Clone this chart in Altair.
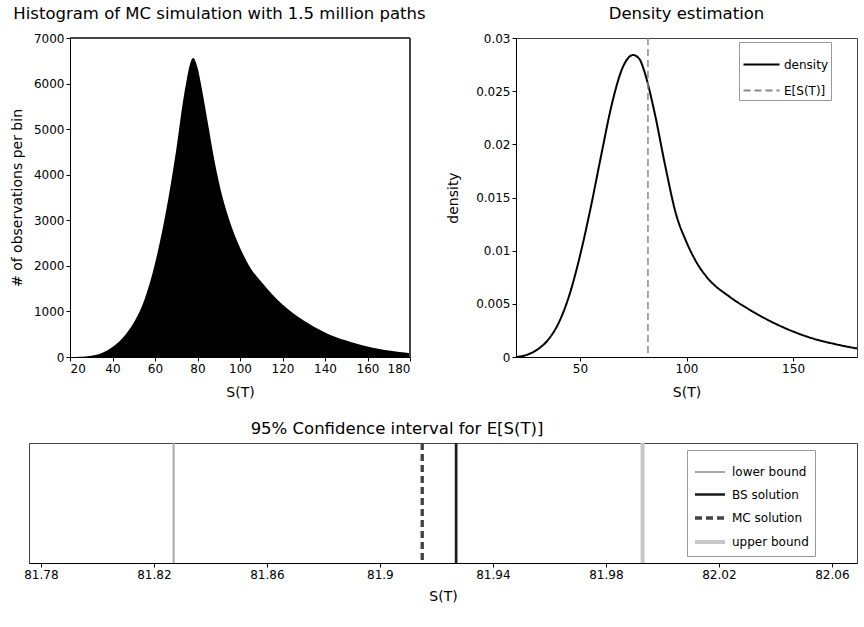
import altair as alt
import pandas as pd

FONT = "DejaVu Sans"

# ---------------- data ----------------
hist_x = [20, 25, 30, 35, 40, 45, 50, 55, 60, 65, 70, 73, 75, 77, 78, 80, 82, 85, 88, 90,
          95, 100, 105, 110, 115, 120, 125, 130, 135, 140, 145, 150, 155, 160, 165, 170, 175, 180]
hist_counts = [0, 5, 30, 90, 220, 430, 750, 1250, 2050, 3150, 4550, 5550, 6100, 6500, 6560, 6350,
               5900, 5100, 4300, 3850, 3000, 2400, 1950, 1650, 1380, 1150, 960, 800, 660, 540,
               440, 360, 290, 230, 180, 140, 110, 85]

dens_x = [20, 25, 30, 35, 40, 45, 50, 55, 60, 65, 70, 75, 78, 80, 85, 90, 95, 100, 105,
          110, 120, 130, 140, 150, 160, 170, 180]
dens_y = [0.0000, 0.0002, 0.0007, 0.0016, 0.0032, 0.0058, 0.0095, 0.0140, 0.0190, 0.0238,
          0.0272, 0.0284, 0.0280, 0.0270, 0.0230, 0.0180, 0.0135, 0.0108, 0.0088, 0.0074,
          0.0057, 0.0044, 0.0033, 0.0024, 0.0017, 0.0012, 0.0008]

e_st = 81.915
ci_lower = 81.827
bs_solution = 81.927
ci_upper = 81.993
bottom_ticks = [81.78, 81.82, 81.86, 81.90, 81.94, 81.98, 82.02, 82.06]

hist_ticks_x = [20, 40, 60, 80, 100, 120, 140, 160, 180]
hist_ticks_y = [0, 1000, 2000, 3000, 4000, 5000, 6000, 7000]
dens_ticks_x = [50, 100, 150]
dens_ticks_y = [0, 0.005, 0.01, 0.015, 0.02, 0.025, 0.03]

FRAME = "#444444"

# ---------------- histogram ----------------
hist_df = pd.DataFrame({"S": hist_x, "count": hist_counts})
hx = alt.X("S:Q", scale=alt.Scale(domain=[20, 180], range=[41, 381], nice=False),
           axis=alt.Axis(values=hist_ticks_x, title="S(T)", titlePadding=11))
hy = alt.Y("count:Q", scale=alt.Scale(domain=[0, 7000], nice=False),
           axis=alt.Axis(values=hist_ticks_y, format="d", title="# of observations per bin",
                         titlePadding=9, offset=-41))
hist_area = alt.Chart(hist_df).mark_area(color="black", interpolate="monotone").encode(x=hx, y=hy)
frame_top = alt.Chart(hist_df).mark_rule(color=FRAME, strokeWidth=1).encode(
    x=alt.datum(20), x2=alt.datum(180), y=alt.datum(7000))
frame_right = alt.Chart(hist_df).mark_rule(color=FRAME, strokeWidth=1).encode(
    x=alt.datum(180))
hist = alt.layer(hist_area, frame_top, frame_right).properties(
    width=381, height=319,
    view=alt.ViewBackground(strokeWidth=0),
    title=alt.TitleParams("Histogram of MC simulation with 1.5 million paths"))

# ---------------- density ----------------
dens_df = pd.DataFrame({"S": dens_x, "density": dens_y, "series": ["density"] * len(dens_x)})
e_df = pd.DataFrame({"S": [e_st], "series": ["E[S(T)]"]})

top_domain = ["density", "E[S(T)]"]
top_color = alt.Scale(domain=top_domain, range=["black", "#8a8a8a"])
top_dash = alt.Scale(domain=top_domain, range=[[1, 0], [7, 4]])
top_leg = alt.Legend(title=None, orient="none", legendX=223, legendY=4, fillColor="white",
                     strokeColor="#999999", padding=3, symbolType="stroke",
                     symbolSize=1300, symbolStrokeWidth=2, labelFontSize=12,
                     labelFont=FONT, rowPadding=-12, labelOffset=3)

dens_line = alt.Chart(dens_df).mark_line(strokeWidth=2, interpolate="monotone").encode(
    x=alt.X("S:Q", scale=alt.Scale(domain=[20, 180], nice=False),
            axis=alt.Axis(values=dens_ticks_x, title="S(T)", titlePadding=11)),
    y=alt.Y("density:Q", scale=alt.Scale(domain=[0, 0.03], nice=False),
            axis=alt.Axis(values=dens_ticks_y, format="~g", title="density", titlePadding=15)),
    color=alt.Color("series:N", scale=top_color, legend=top_leg),
    strokeDash=alt.StrokeDash("series:N", scale=top_dash, legend=top_leg),
)
dens_rule = alt.Chart(e_df).mark_rule(strokeWidth=1.5).encode(
    x=alt.X("S:Q"),
    color=alt.Color("series:N", scale=top_color, legend=top_leg),
    strokeDash=alt.StrokeDash("series:N", scale=top_dash, legend=top_leg),
)
dens = alt.layer(dens_line, dens_rule).properties(
    width=341, height=319, title=alt.TitleParams("Density estimation"))

# ---------------- confidence interval ----------------
ci_domain = ["lower bound", "BS solution", "MC solution", "upper bound"]
ci_df = pd.DataFrame({"S": [ci_lower, bs_solution, e_st, ci_upper], "series": ci_domain})
ci_color = alt.Scale(domain=ci_domain, range=["#a8a8a8", "#1a1a1a", "#444444", "#c8c8c8"])
ci_dash = alt.Scale(domain=ci_domain, range=[[1, 0], [1, 0], [7, 4], [1, 0]])
ci_width = alt.Scale(domain=ci_domain, range=[2, 4, 1.5, 3])
ci_leg = alt.Legend(title=None, orient="none", legendX=658, legendY=7, fillColor="white",
                    strokeColor="#999999", padding=6, symbolType="stroke",
                    symbolSize=900, labelFontSize=12, labelFont=FONT, rowPadding=-10,
                    labelOffset=5)

ci = alt.Chart(ci_df).mark_rule().encode(
    x=alt.X("S:Q", scale=alt.Scale(domain=[81.7758, 82.0689], nice=False, zero=False),
            axis=alt.Axis(values=bottom_ticks, format="~f", title="S(T)", titlePadding=9)),
    color=alt.Color("series:N", scale=ci_color, legend=ci_leg),
    strokeDash=alt.StrokeDash("series:N", scale=ci_dash, legend=ci_leg),
    strokeWidth=alt.StrokeWidth("series:N", scale=ci_width, legend=ci_leg),
).properties(
    width=828, height=120,
    title=alt.TitleParams("95% Confidence interval for E[S(T)]", dx=-46, offset=4))

top = alt.hconcat(hist, dens, spacing=20).resolve_scale(color="independent",
                                                         strokeDash="independent")
chart = alt.vconcat(top, ci, spacing=20).resolve_scale(
    color="independent", strokeDash="independent", strokeWidth="independent"
).properties(
    padding={"left": 10, "top": 5, "right": 0, "bottom": 0},
    background="white",
).configure_axis(
    grid=False, labelFont=FONT, titleFont=FONT, labelFontSize=12, titleFontSize=14,
    titleFontWeight="normal", labelColor="black", titleColor="black",
    domainColor="black", tickColor="black", tickSize=4,
).configure_title(
    font=FONT, fontSize=16.5, fontWeight="normal", color="black", offset=10,
).configure_view(stroke=FRAME, strokeWidth=1)

chart.save("out.html", embed_options={"renderer": "svg", "actions": False})
